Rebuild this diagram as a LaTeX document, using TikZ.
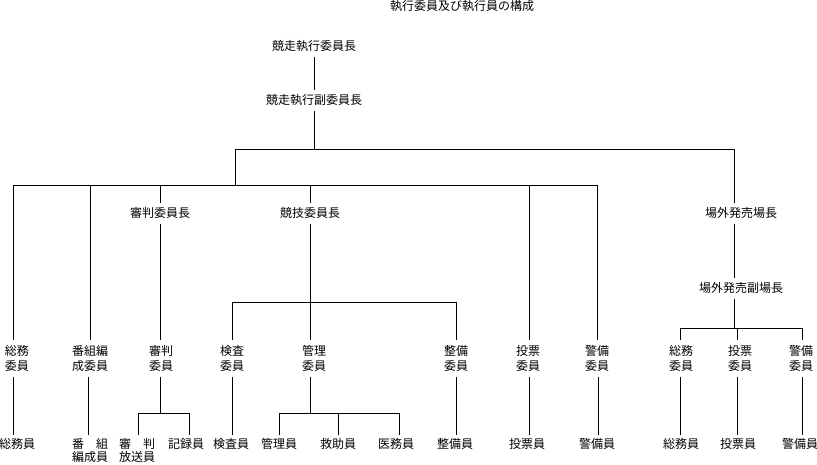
\documentclass[tikz,border=0pt]{standalone}
\usepackage{fontspec}
\setmainfont{Noto Sans CJK JP}
\begin{document}
\begin{tikzpicture}[x=1pt,y=-1pt,line width=1pt,
 lab/.style={font=\fontsize{12}{15}\selectfont, inner xsep=0pt, inner ysep=4pt, text height=10pt, text depth=2pt},
 lab2/.style={font=\fontsize{12}{15}\selectfont, inner xsep=0pt, inner ysep=5pt, align=center, anchor=north},
 bot/.style={font=\fontsize{12}{13}\selectfont, inner xsep=0pt, inner ysep=3pt, align=center, anchor=north}]
\useasboundingbox (0,0) rectangle (817,464);
% title and top
\node[lab] (title) at (462,6) {執行委員及び執行員の構成};
\node[lab] (A) at (314,46) {競走執行委員長};
\node[lab] (B) at (314,100) {競走執行副委員長};
% level 2
\node[lab] (shc) at (160,213) {審判委員長};
\node[lab] (kgc) at (310,213) {競技委員長};
\node[lab] (ogc) at (741,213) {場外発売場長};
\node[lab] (ogf) at (741,288) {場外発売副場長};
% level 3
\node[lab2] (s1) at (17,340) {総務\\委員};
\node[lab2] (s2) at (90,340) {番組編\\成委員};
\node[lab2] (s3) at (161,340) {審判\\委員};
\node[lab2] (s4) at (232,340) {検査\\委員};
\node[lab2] (s5) at (314,340) {管理\\委員};
\node[lab2] (s6) at (456,340) {整備\\委員};
\node[lab2] (s7) at (528,340) {投票\\委員};
\node[lab2] (s8) at (597,340) {警備\\委員};
\node[lab2] (s9) at (681,340) {総務\\委員};
\node[lab2] (s10) at (740,340) {投票\\委員};
\node[lab2] (s11) at (801,340) {警備\\委員};
% level 4
\node[bot] (b1) at (17,435) {総務員};
\node[bot] (b2) at (90,435) {番　組\\編成員};
\node[bot] (b3) at (137,435) {審　判\\放送員};
\node[bot] (b4) at (186,435) {記録員};
\node[bot] (b5) at (231,435) {検査員};
\node[bot] (b6) at (279,435) {管理員};
\node[bot] (b7) at (338,435) {救助員};
\node[bot] (b8) at (396,435) {医務員};
\node[bot] (b9) at (455,435) {整備員};
\node[bot] (b10) at (527,435) {投票員};
\node[bot] (b11) at (597,435) {警備員};
\node[bot] (b12) at (681,435) {総務員};
\node[bot] (b13) at (738,435) {投票員};
\node[bot] (b14) at (800,435) {警備員};
% junction coordinates
\coordinate (h1) at (314,149);
\coordinate (h1L) at (235,149);
\coordinate (h1R) at (734,149);
\coordinate (h2L) at (13,185);
\coordinate (h2M) at (235,185);
\coordinate (h2R) at (597,185);
\coordinate (x2) at (90,0);
\coordinate (x3) at (160,0);
\coordinate (x4) at (310,0);
\coordinate (x5) at (529,0);
\coordinate (x6) at (598,0);
\coordinate (h3L) at (232,302);
\coordinate (h3R) at (456,302);
\coordinate (h4) at (734,328);
\coordinate (h4L) at (680,328);
\coordinate (h4M) at (737,328);
\coordinate (h4R) at (802,328);
\coordinate (h5L) at (138,413);
\coordinate (h5R) at (189,413);
\coordinate (h6L) at (279,413);
\coordinate (h6M) at (338,413);
\coordinate (h6R) at (399,413);
% connectors top
\draw (A) -- (B);
\draw (B) -- (h1);
\draw (h1L) -- (h1R);
\draw (h1L) -- (h2M);
\draw (h2L) -- (h2R);
\draw (h1R) -- (ogc.north -| h1R);
\draw (ogc.south -| h1R) -- (ogf.north -| h1R);
\draw (ogf.south -| h1R) -- (h4);
\draw (h4L) -- (h4R);
% level 2 -> 3
\draw (h2L) -- (s1.north -| h2L);
\draw (h2L -| x2) -- (s2.north -| x2);
\draw (h2L -| x3) -- (shc.north -| x3);
\draw (shc.south -| x3) -- (s3.north -| x3);
\draw (h2L -| x4) -- (kgc.north -| x4);
\draw (kgc.south -| x4) -- (s5.north -| x4);
\draw (h3L) -- (h3R);
\draw (h3L) -- (s4.north -| h3L);
\draw (h3R) -- (s6.north -| h3R);
\draw (h2L -| x5) -- (s7.north -| x5);
\draw (h2R) -- (s8.north -| h2R);
\draw (h4L) -- (s9.north -| h4L);
\draw (h4M) -- (s10.north -| h4M);
\draw (h4R) -- (s11.north -| h4R);
% level 3 -> 4
\draw (s1.south -| h2L) -- (b1.north -| h2L);
\draw (s2.south -| 88,0) -- (b2.north -| 88,0);
\draw (s3.south -| x3) -- (h5L -| x3);
\draw (h5L) -- (h5R);
\draw (h5L) -- (b3.north -| h5L);
\draw (h5R) -- (b4.north -| h5R);
\draw (s4.south -| h3L) -- (b5.north -| h3L);
\draw (s5.south -| x4) -- (h6L -| x4);
\draw (h6L) -- (h6R);
\draw (h6L) -- (b6.north -| h6L);
\draw (h6M) -- (b7.north -| h6M);
\draw (h6R) -- (b8.north -| h6R);
\draw (s6.south -| h3R) -- (b9.north -| h3R);
\draw (s7.south -| x5) -- (b10.north -| x5);
\draw (s8.south -| x6) -- (b11.north -| x6);
\draw (s9.south -| h4L) -- (b12.north -| h4L);
\draw (s10.south -| h4M) -- (b13.north -| h4M);
\draw (s11.south -| h4R) -- (b14.north -| h4R);
\end{tikzpicture}
\end{document}
